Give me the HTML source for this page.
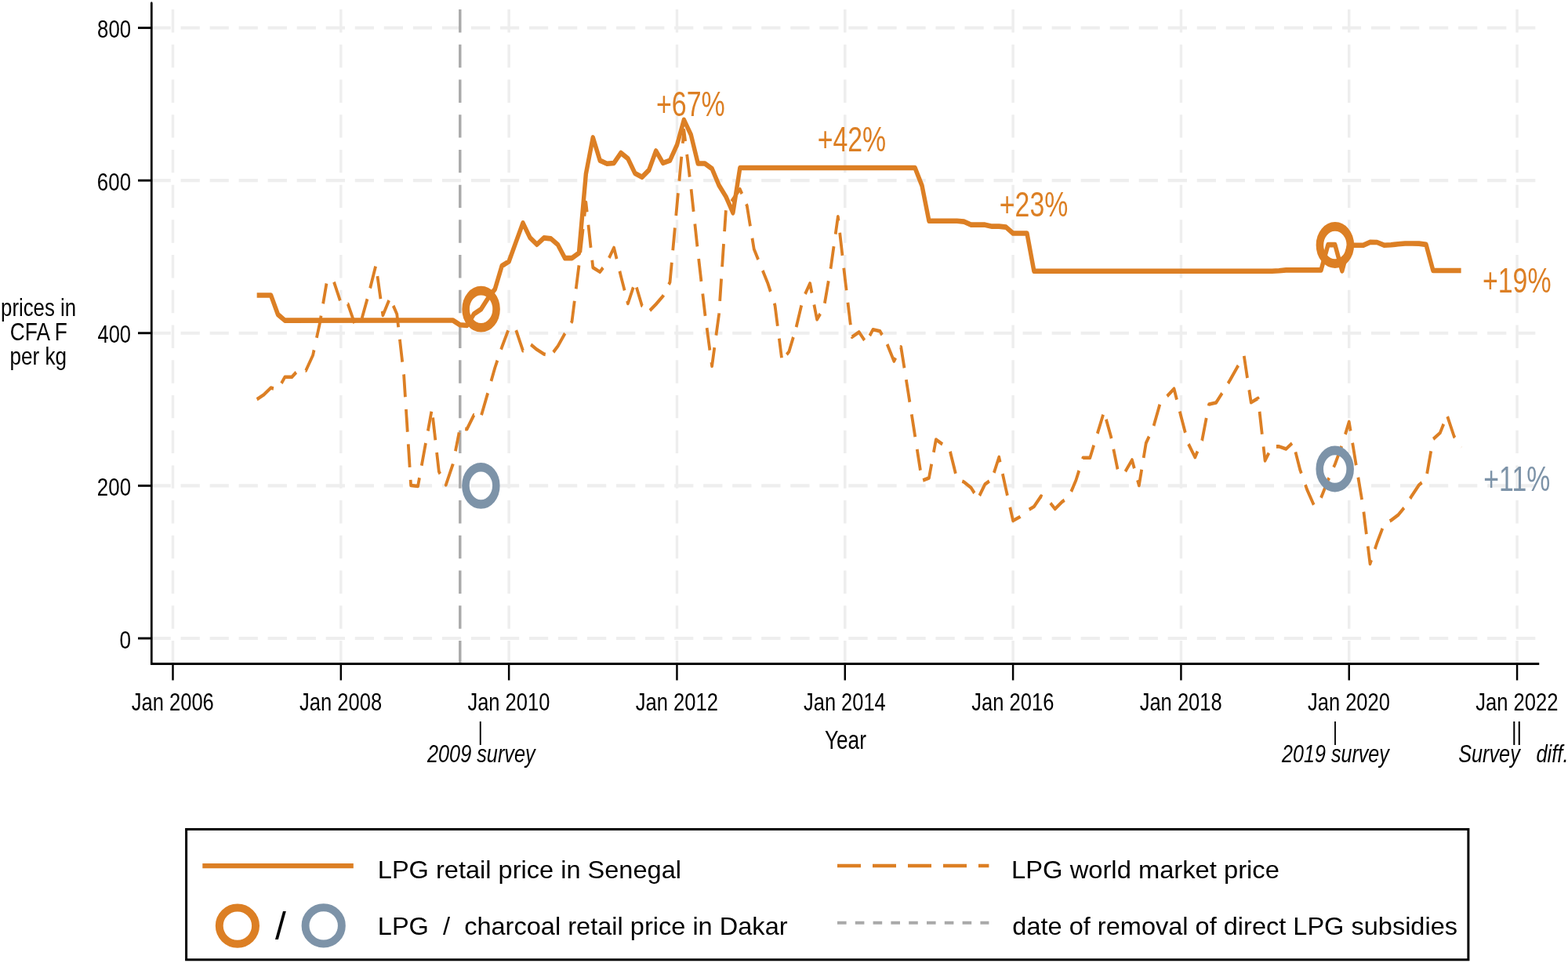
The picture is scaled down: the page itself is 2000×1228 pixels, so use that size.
<!DOCTYPE html><html><head><meta charset="utf-8"><title>LPG prices</title><style>html,body{margin:0;padding:0;background:#fff;}svg{display:block;}</style></head><body><svg width="2000" height="1228" viewBox="0 0 2000 1228" font-family="'Liberation Sans', Arial, sans-serif">
<rect width="2000" height="1228" fill="#fff"/>
<g transform="scale(0.825,1)"><line x1="234.55" y1="814.00" x2="2378.18" y2="814.00" stroke="#eeeeee" stroke-width="4.2" stroke-dasharray="29.4 15.49"/>
<line x1="234.55" y1="619.37" x2="2378.18" y2="619.37" stroke="#eeeeee" stroke-width="4.2" stroke-dasharray="29.4 15.49"/>
<line x1="234.55" y1="424.75" x2="2378.18" y2="424.75" stroke="#eeeeee" stroke-width="4.2" stroke-dasharray="29.4 15.49"/>
<line x1="234.55" y1="230.12" x2="2378.18" y2="230.12" stroke="#eeeeee" stroke-width="4.2" stroke-dasharray="29.4 15.49"/>
<line x1="234.55" y1="35.50" x2="2378.18" y2="35.50" stroke="#eeeeee" stroke-width="4.2" stroke-dasharray="29.4 15.49"/>
<line x1="267.27" y1="846.4" x2="267.27" y2="4.0" stroke="#eeeeee" stroke-width="4.2" stroke-dasharray="29.4 15.32"/>
<line x1="527.05" y1="846.4" x2="527.05" y2="4.0" stroke="#eeeeee" stroke-width="4.2" stroke-dasharray="29.4 15.32"/>
<line x1="786.84" y1="846.4" x2="786.84" y2="4.0" stroke="#eeeeee" stroke-width="4.2" stroke-dasharray="29.4 15.32"/>
<line x1="1046.62" y1="846.4" x2="1046.62" y2="4.0" stroke="#eeeeee" stroke-width="4.2" stroke-dasharray="29.4 15.32"/>
<line x1="1306.40" y1="846.4" x2="1306.40" y2="4.0" stroke="#eeeeee" stroke-width="4.2" stroke-dasharray="29.4 15.32"/>
<line x1="1566.18" y1="846.4" x2="1566.18" y2="4.0" stroke="#eeeeee" stroke-width="4.2" stroke-dasharray="29.4 15.32"/>
<line x1="1825.96" y1="846.4" x2="1825.96" y2="4.0" stroke="#eeeeee" stroke-width="4.2" stroke-dasharray="29.4 15.32"/>
<line x1="2085.75" y1="846.4" x2="2085.75" y2="4.0" stroke="#eeeeee" stroke-width="4.2" stroke-dasharray="29.4 15.32"/>
<line x1="2345.53" y1="846.4" x2="2345.53" y2="4.0" stroke="#eeeeee" stroke-width="4.2" stroke-dasharray="29.4 15.32"/>
<line x1="711.27" y1="846.4" x2="711.27" y2="4.0" stroke="#a9a9a9" stroke-width="4.1" stroke-dasharray="29.4 15.32"/>
<polyline points="397.16,509.20 407.99,503.30 418.81,494.50 429.64,496.80 435.09,488.68" fill="none" stroke="#dc7f24" stroke-width="4.6" stroke-dasharray="30.53 16.59" stroke-linejoin="round"/>
<polyline points="435.09,488.68 440.46,480.70 451.28,480.70 462.11,470.90 472.35,472.41" fill="none" stroke="#dc7f24" stroke-width="4.6" stroke-dasharray="29.41 15.99" stroke-linejoin="round"/>
<polyline points="472.35,472.41 472.93,472.50 483.76,453.00 489.57,430.78" fill="none" stroke="#dc7f24" stroke-width="4.6" stroke-dasharray="29.71 16.15" stroke-linejoin="round"/>
<polyline points="489.57,430.78 494.58,411.60 499.55,387.21" fill="none" stroke="#dc7f24" stroke-width="4.6" stroke-dasharray="28.97 15.75" stroke-linejoin="round"/>
<polyline points="499.55,387.21 505.41,358.50 516.23,359.30 516.35,359.60" fill="none" stroke="#dc7f24" stroke-width="4.6" stroke-dasharray="26.22 14.25" stroke-linejoin="round"/>
<polyline points="516.35,359.60 527.05,386.30 537.52,387.65" fill="none" stroke="#dc7f24" stroke-width="4.6" stroke-dasharray="25.47 13.84" stroke-linejoin="round"/>
<polyline points="537.52,387.65 537.88,387.70 548.70,413.50 559.36,406.12" fill="none" stroke="#dc7f24" stroke-width="4.6" stroke-dasharray="26.76 14.54" stroke-linejoin="round"/>
<polyline points="559.36,406.12 559.53,406.00 570.35,373.70 572.24,367.50" fill="none" stroke="#dc7f24" stroke-width="4.6" stroke-dasharray="26.40 14.35" stroke-linejoin="round"/>
<polyline points="572.24,367.50 581.18,338.20 583.56,352.23" fill="none" stroke="#dc7f24" stroke-width="4.6" stroke-dasharray="29.07 15.80" stroke-linejoin="round"/>
<polyline points="583.56,352.23 591.11,396.76" fill="none" stroke="#dc7f24" stroke-width="4.6" stroke-dasharray="29.26 15.90" stroke-linejoin="round"/>
<polyline points="591.11,396.76 592.00,402.00 602.82,380.00 608.07,389.93" fill="none" stroke="#dc7f24" stroke-width="4.6" stroke-dasharray="26.60 14.46" stroke-linejoin="round"/>
<polyline points="608.07,389.93 613.65,400.50 618.09,432.73" fill="none" stroke="#dc7f24" stroke-width="4.6" stroke-dasharray="28.82 15.67" stroke-linejoin="round"/>
<polyline points="618.09,432.73 624.25,477.37" fill="none" stroke="#dc7f24" stroke-width="4.6" stroke-dasharray="29.19 15.87" stroke-linejoin="round"/>
<polyline points="624.25,477.37 624.47,479.00 627.79,521.91" fill="none" stroke="#dc7f24" stroke-width="4.6" stroke-dasharray="28.95 15.74" stroke-linejoin="round"/>
<polyline points="627.79,521.91 631.23,566.38" fill="none" stroke="#dc7f24" stroke-width="4.6" stroke-dasharray="28.90 15.71" stroke-linejoin="round"/>
<polyline points="631.23,566.38 634.74,611.83" fill="none" stroke="#dc7f24" stroke-width="4.6" stroke-dasharray="29.53 16.05" stroke-linejoin="round"/>
<polyline points="634.74,611.83 635.30,619.00 646.12,620.00 651.86,593.82" fill="none" stroke="#dc7f24" stroke-width="4.6" stroke-dasharray="29.07 15.80" stroke-linejoin="round"/>
<polyline points="651.86,593.82 656.95,570.60 661.64,549.49" fill="none" stroke="#dc7f24" stroke-width="4.6" stroke-dasharray="29.40 15.98" stroke-linejoin="round"/>
<polyline points="661.64,549.49 667.77,521.90 669.21,532.47" fill="none" stroke="#dc7f24" stroke-width="4.6" stroke-dasharray="25.22 13.71" stroke-linejoin="round"/>
<polyline points="669.21,532.47 675.27,576.95" fill="none" stroke="#dc7f24" stroke-width="4.6" stroke-dasharray="29.09 15.81" stroke-linejoin="round"/>
<polyline points="675.27,576.95 678.59,601.30 688.58,616.98" fill="none" stroke="#dc7f24" stroke-width="4.6" stroke-dasharray="27.97 15.20" stroke-linejoin="round"/>
<polyline points="688.58,616.98 689.42,618.30 700.24,591.80 704.16,575.34" fill="none" stroke="#dc7f24" stroke-width="4.6" stroke-dasharray="30.52 16.59" stroke-linejoin="round"/>
<polyline points="704.16,575.34 711.07,546.30 719.05,547.04" fill="none" stroke="#dc7f24" stroke-width="4.6" stroke-dasharray="24.54 13.34" stroke-linejoin="round"/>
<polyline points="719.05,547.04 721.89,547.30 732.72,529.30 743.54,531.40 744.33,529.16" fill="none" stroke="#dc7f24" stroke-width="4.6" stroke-dasharray="24.14 13.12" stroke-linejoin="round"/>
<polyline points="744.33,529.16 754.36,500.70 759.35,486.09" fill="none" stroke="#dc7f24" stroke-width="4.6" stroke-dasharray="29.55 16.06" stroke-linejoin="round"/>
<polyline points="759.35,486.09 765.19,469.00 774.73,445.63" fill="none" stroke="#dc7f24" stroke-width="4.6" stroke-dasharray="28.06 15.25" stroke-linejoin="round"/>
<polyline points="774.73,445.63 776.01,442.50 786.84,418.70 797.66,420.50 797.89,421.06" fill="none" stroke="#dc7f24" stroke-width="4.6" stroke-dasharray="26.63 14.48" stroke-linejoin="round"/>
<polyline points="797.89,421.06 808.48,447.20 819.31,438.40 820.78,439.40" fill="none" stroke="#dc7f24" stroke-width="4.6" stroke-dasharray="28.46 15.47" stroke-linejoin="round"/>
<polyline points="820.78,439.40 830.13,445.80 840.96,451.50 851.78,453.30 855.50,449.15" fill="none" stroke="#dc7f24" stroke-width="4.6" stroke-dasharray="25.99 14.12" stroke-linejoin="round"/>
<polyline points="855.50,449.15 862.61,441.20 873.43,425.20 882.99,411.78" fill="none" stroke="#dc7f24" stroke-width="4.6" stroke-dasharray="30.10 16.36" stroke-linejoin="round"/>
<polyline points="882.99,411.78 884.25,410.00 890.58,368.34" fill="none" stroke="#dc7f24" stroke-width="4.6" stroke-dasharray="28.71 15.60" stroke-linejoin="round"/>
<polyline points="890.58,368.34 895.08,338.70 905.90,258.00 909.64,286.73" fill="none" stroke="#dc7f24" stroke-width="4.6" stroke-dasharray="30.31 16.48" stroke-linejoin="round"/>
<polyline points="909.64,286.73 915.50,331.71" fill="none" stroke="#dc7f24" stroke-width="4.6" stroke-dasharray="29.39 15.97" stroke-linejoin="round"/>
<polyline points="915.50,331.71 916.73,341.10 927.55,346.80 938.38,334.60 941.70,328.86" fill="none" stroke="#dc7f24" stroke-width="4.6" stroke-dasharray="28.93 15.72" stroke-linejoin="round"/>
<polyline points="941.70,328.86 949.20,315.90 958.05,345.73" fill="none" stroke="#dc7f24" stroke-width="4.6" stroke-dasharray="29.86 16.23" stroke-linejoin="round"/>
<polyline points="958.05,345.73 960.02,352.40 970.85,387.00 981.67,359.90 992.50,389.80 1003.32,397.30 1004.75,396.07" fill="none" stroke="#dc7f24" stroke-width="4.6" stroke-dasharray="25.75 14.00" stroke-linejoin="round"/>
<polyline points="1004.75,396.07 1014.15,388.00 1024.97,377.70 1034.01,362.74" fill="none" stroke="#dc7f24" stroke-width="4.6" stroke-dasharray="29.03 15.78" stroke-linejoin="round"/>
<polyline points="1034.01,362.74 1035.79,359.80 1040.29,319.14" fill="none" stroke="#dc7f24" stroke-width="4.6" stroke-dasharray="28.73 15.62" stroke-linejoin="round"/>
<polyline points="1040.29,319.14 1046.62,262.00 1050.15,230.64" fill="none" stroke="#dc7f24" stroke-width="4.6" stroke-dasharray="28.85 15.68" stroke-linejoin="round"/>
<polyline points="1050.15,230.64 1057.44,166.00 1062.04,196.88" fill="none" stroke="#dc7f24" stroke-width="4.6" stroke-dasharray="31.18 16.95" stroke-linejoin="round"/>
<polyline points="1062.04,196.88 1068.27,238.70 1068.60,241.29" fill="none" stroke="#dc7f24" stroke-width="4.6" stroke-dasharray="29.09 15.81" stroke-linejoin="round"/>
<polyline points="1068.60,241.29 1074.34,285.47" fill="none" stroke="#dc7f24" stroke-width="4.6" stroke-dasharray="28.87 15.69" stroke-linejoin="round"/>
<polyline points="1074.34,285.47 1079.09,322.00 1086.39,374.55" fill="none" stroke="#dc7f24" stroke-width="4.6" stroke-dasharray="29.12 15.83" stroke-linejoin="round"/>
<polyline points="1086.39,374.55 1089.92,399.90 1092.86,418.10" fill="none" stroke="#dc7f24" stroke-width="4.6" stroke-dasharray="28.53 15.51" stroke-linejoin="round"/>
<polyline points="1092.86,418.10 1099.96,461.95" fill="none" stroke="#dc7f24" stroke-width="4.6" stroke-dasharray="28.78 15.64" stroke-linejoin="round"/>
<polyline points="1099.96,461.95 1100.74,466.80 1107.18,427.63" fill="none" stroke="#dc7f24" stroke-width="4.6" stroke-dasharray="28.90 15.71" stroke-linejoin="round"/>
<polyline points="1107.18,427.63 1111.56,401.00 1112.95,383.88" fill="none" stroke="#dc7f24" stroke-width="4.6" stroke-dasharray="28.61 15.55" stroke-linejoin="round"/>
<polyline points="1112.95,383.88 1116.49,340.06" fill="none" stroke="#dc7f24" stroke-width="4.6" stroke-dasharray="28.48 15.48" stroke-linejoin="round"/>
<polyline points="1116.49,340.06 1120.11,295.16" fill="none" stroke="#dc7f24" stroke-width="4.6" stroke-dasharray="29.18 15.86" stroke-linejoin="round"/>
<polyline points="1120.11,295.16 1122.39,267.00 1133.21,254.00 1144.04,241.20 1153.79,260.21" fill="none" stroke="#dc7f24" stroke-width="4.6" stroke-dasharray="26.98 14.67" stroke-linejoin="round"/>
<polyline points="1153.79,260.21 1154.86,262.30 1165.68,317.40 1176.51,339.60 1179.15,345.02" fill="none" stroke="#dc7f24" stroke-width="4.6" stroke-dasharray="28.90 15.71" stroke-linejoin="round"/>
<polyline points="1179.15,345.02 1187.33,361.80 1198.16,389.40 1204.67,431.56" fill="none" stroke="#dc7f24" stroke-width="4.6" stroke-dasharray="29.47 16.02" stroke-linejoin="round"/>
<polyline points="1204.67,431.56 1208.98,459.50 1219.81,448.50 1230.63,418.60 1231.08,417.05" fill="none" stroke="#dc7f24" stroke-width="4.6" stroke-dasharray="24.98 13.58" stroke-linejoin="round"/>
<polyline points="1231.08,417.05 1241.45,381.10 1244.84,374.93" fill="none" stroke="#dc7f24" stroke-width="4.6" stroke-dasharray="28.80 15.66" stroke-linejoin="round"/>
<polyline points="1244.84,374.93 1252.28,361.40 1258.65,388.43" fill="none" stroke="#dc7f24" stroke-width="4.6" stroke-dasharray="27.99 15.22" stroke-linejoin="round"/>
<polyline points="1258.65,388.43 1263.10,407.30 1273.93,392.00 1275.02,386.72" fill="none" stroke="#dc7f24" stroke-width="4.6" stroke-dasharray="28.19 15.32" stroke-linejoin="round"/>
<polyline points="1275.02,386.72 1284.16,342.73" fill="none" stroke="#dc7f24" stroke-width="4.6" stroke-dasharray="29.11 15.82" stroke-linejoin="round"/>
<polyline points="1284.16,342.73 1284.75,339.90 1291.76,298.66" fill="none" stroke="#dc7f24" stroke-width="4.6" stroke-dasharray="28.98 15.75" stroke-linejoin="round"/>
<polyline points="1291.76,298.66 1295.58,276.20 1298.39,296.69" fill="none" stroke="#dc7f24" stroke-width="4.6" stroke-dasharray="28.16 15.30" stroke-linejoin="round"/>
<polyline points="1298.39,296.69 1304.58,341.79" fill="none" stroke="#dc7f24" stroke-width="4.6" stroke-dasharray="29.49 16.03" stroke-linejoin="round"/>
<polyline points="1304.58,341.79 1306.40,355.00 1310.85,385.76" fill="none" stroke="#dc7f24" stroke-width="4.6" stroke-dasharray="28.77 15.64" stroke-linejoin="round"/>
<polyline points="1310.85,385.76 1317.22,429.76" fill="none" stroke="#dc7f24" stroke-width="4.6" stroke-dasharray="28.81 15.66" stroke-linejoin="round"/>
<polyline points="1317.22,429.76 1317.22,429.80 1328.05,423.40 1338.87,436.70 1349.70,420.20 1360.52,422.30 1371.35,438.20 1371.67,438.88" fill="none" stroke="#dc7f24" stroke-width="4.6" stroke-dasharray="26.08 14.17" stroke-linejoin="round"/>
<polyline points="1371.67,438.88 1382.17,460.50 1392.76,442.89" fill="none" stroke="#dc7f24" stroke-width="4.6" stroke-dasharray="28.89 15.70" stroke-linejoin="round"/>
<polyline points="1392.76,442.89 1392.99,442.50 1401.02,484.12" fill="none" stroke="#dc7f24" stroke-width="4.6" stroke-dasharray="27.75 15.08" stroke-linejoin="round"/>
<polyline points="1401.02,484.12 1403.82,498.60 1409.46,528.34" fill="none" stroke="#dc7f24" stroke-width="4.6" stroke-dasharray="29.16 15.85" stroke-linejoin="round"/>
<polyline points="1409.46,528.34 1414.64,555.70 1417.88,572.83" fill="none" stroke="#dc7f24" stroke-width="4.6" stroke-dasharray="29.34 15.95" stroke-linejoin="round"/>
<polyline points="1417.88,572.83 1425.47,612.90 1426.87,612.46" fill="none" stroke="#dc7f24" stroke-width="4.6" stroke-dasharray="27.37 14.88" stroke-linejoin="round"/>
<polyline points="1426.87,612.46 1436.29,609.50 1443.54,576.76" fill="none" stroke="#dc7f24" stroke-width="4.6" stroke-dasharray="28.12 15.28" stroke-linejoin="round"/>
<polyline points="1443.54,576.76 1447.12,560.60 1457.94,566.90 1468.76,575.00 1468.99,575.76" fill="none" stroke="#dc7f24" stroke-width="4.6" stroke-dasharray="28.11 15.28" stroke-linejoin="round"/>
<polyline points="1468.99,575.76 1479.59,610.90 1487.63,613.65" fill="none" stroke="#dc7f24" stroke-width="4.6" stroke-dasharray="29.29 15.92" stroke-linejoin="round"/>
<polyline points="1487.63,613.65 1490.41,614.60 1501.24,621.90 1512.06,635.80 1522.88,617.50 1533.71,610.90 1536.80,602.92" fill="none" stroke="#dc7f24" stroke-width="4.6" stroke-dasharray="24.65 13.40" stroke-linejoin="round"/>
<polyline points="1536.80,602.92 1544.53,583.00 1550.10,604.09" fill="none" stroke="#dc7f24" stroke-width="4.6" stroke-dasharray="27.98 15.21" stroke-linejoin="round"/>
<polyline points="1550.10,604.09 1555.36,624.00 1561.56,646.91" fill="none" stroke="#dc7f24" stroke-width="4.6" stroke-dasharray="28.72 15.61" stroke-linejoin="round"/>
<polyline points="1561.56,646.91 1566.18,664.00 1577.01,659.00 1587.83,651.40 1591.13,649.75" fill="none" stroke="#dc7f24" stroke-width="4.6" stroke-dasharray="30.16 16.39" stroke-linejoin="round"/>
<polyline points="1591.13,649.75 1598.65,646.00 1609.48,632.70 1620.30,637.60 1624.01,641.51" fill="none" stroke="#dc7f24" stroke-width="4.6" stroke-dasharray="27.74 15.08" stroke-linejoin="round"/>
<polyline points="1624.01,641.51 1631.13,649.00 1641.95,640.00 1652.78,633.50 1656.13,626.92" fill="none" stroke="#dc7f24" stroke-width="4.6" stroke-dasharray="28.78 15.64" stroke-linejoin="round"/>
<polyline points="1656.13,626.92 1663.60,612.30 1673.88,585.22" fill="none" stroke="#dc7f24" stroke-width="4.6" stroke-dasharray="29.40 15.98" stroke-linejoin="round"/>
<polyline points="1673.88,585.22 1674.42,583.80 1685.25,583.80 1696.07,554.50 1696.69,552.84" fill="none" stroke="#dc7f24" stroke-width="4.6" stroke-dasharray="29.38 15.97" stroke-linejoin="round"/>
<polyline points="1696.69,552.84 1706.90,525.20 1717.72,557.00 1721.59,572.71" fill="none" stroke="#dc7f24" stroke-width="4.6" stroke-dasharray="25.66 13.95" stroke-linejoin="round"/>
<polyline points="1721.59,572.71 1728.55,601.00 1739.37,601.90 1739.85,601.22" fill="none" stroke="#dc7f24" stroke-width="4.6" stroke-dasharray="26.45 14.38" stroke-linejoin="round"/>
<polyline points="1739.85,601.22 1750.19,586.50 1758.79,612.31" fill="none" stroke="#dc7f24" stroke-width="4.6" stroke-dasharray="29.28 15.92" stroke-linejoin="round"/>
<polyline points="1758.79,612.31 1761.02,619.00 1768.06,583.89" fill="none" stroke="#dc7f24" stroke-width="4.6" stroke-dasharray="27.77 15.09" stroke-linejoin="round"/>
<polyline points="1768.06,583.89 1771.84,565.00 1782.67,546.00 1783.74,542.89" fill="none" stroke="#dc7f24" stroke-width="4.6" stroke-dasharray="28.78 15.64" stroke-linejoin="round"/>
<polyline points="1783.74,542.89 1793.49,514.70 1804.32,505.30 1804.41,505.22" fill="none" stroke="#dc7f24" stroke-width="4.6" stroke-dasharray="28.70 15.60" stroke-linejoin="round"/>
<polyline points="1804.41,505.22 1815.14,495.80 1824.01,524.64" fill="none" stroke="#dc7f24" stroke-width="4.6" stroke-dasharray="28.79 15.65" stroke-linejoin="round"/>
<polyline points="1824.01,524.64 1825.96,531.00 1836.79,565.10 1837.49,566.27" fill="none" stroke="#dc7f24" stroke-width="4.6" stroke-dasharray="28.37 15.42" stroke-linejoin="round"/>
<polyline points="1837.49,566.27 1847.61,583.10 1858.41,561.75" fill="none" stroke="#dc7f24" stroke-width="4.6" stroke-dasharray="28.22 15.34" stroke-linejoin="round"/>
<polyline points="1858.41,561.75 1858.44,561.70 1868.78,517.47" fill="none" stroke="#dc7f24" stroke-width="4.6" stroke-dasharray="29.47 16.02" stroke-linejoin="round"/>
<polyline points="1868.78,517.47 1869.26,515.40 1880.08,513.50 1890.91,499.40 1898.66,488.80" fill="none" stroke="#dc7f24" stroke-width="4.6" stroke-dasharray="28.51 15.50" stroke-linejoin="round"/>
<polyline points="1898.66,488.80 1901.73,484.60 1912.56,468.70 1923.38,453.90" fill="none" stroke="#dc7f24" stroke-width="4.6" stroke-dasharray="27.72 15.06" stroke-linejoin="round"/>
<polyline points="1923.38,453.90 1931.29,497.23" fill="none" stroke="#dc7f24" stroke-width="4.6" stroke-dasharray="28.54 15.51" stroke-linejoin="round"/>
<polyline points="1931.29,497.23 1934.21,513.20 1945.03,507.90 1947.35,524.92" fill="none" stroke="#dc7f24" stroke-width="4.6" stroke-dasharray="29.46 16.01" stroke-linejoin="round"/>
<polyline points="1947.35,524.92 1953.41,569.47" fill="none" stroke="#dc7f24" stroke-width="4.6" stroke-dasharray="29.13 15.83" stroke-linejoin="round"/>
<polyline points="1953.41,569.47 1955.85,587.40 1966.68,569.40 1973.21,569.40" fill="none" stroke="#dc7f24" stroke-width="4.6" stroke-dasharray="29.56 16.07" stroke-linejoin="round"/>
<polyline points="1973.21,569.40 1977.50,569.40 1988.33,572.50 1999.15,564.00 2002.97,576.33" fill="none" stroke="#dc7f24" stroke-width="4.6" stroke-dasharray="27.35 14.87" stroke-linejoin="round"/>
<polyline points="2002.97,576.33 2009.98,599.00 2018.13,618.12" fill="none" stroke="#dc7f24" stroke-width="4.6" stroke-dasharray="28.84 15.68" stroke-linejoin="round"/>
<polyline points="2018.13,618.12 2020.80,624.40 2031.62,644.60 2042.45,634.70" fill="none" stroke="#dc7f24" stroke-width="4.6" stroke-dasharray="28.77 15.64" stroke-linejoin="round"/>
<polyline points="2042.45,634.70 2053.27,612.30 2061.96,595.77" fill="none" stroke="#dc7f24" stroke-width="4.6" stroke-dasharray="28.22 15.34" stroke-linejoin="round"/>
<polyline points="2061.96,595.77 2064.10,591.70 2074.92,567.50 2079.90,553.88" fill="none" stroke="#dc7f24" stroke-width="4.6" stroke-dasharray="29.55 16.06" stroke-linejoin="round"/>
<polyline points="2079.90,553.88 2085.75,537.90 2091.07,564.79" fill="none" stroke="#dc7f24" stroke-width="4.6" stroke-dasharray="28.78 15.64" stroke-linejoin="round"/>
<polyline points="2091.07,564.79 2096.57,592.60 2099.83,608.69" fill="none" stroke="#dc7f24" stroke-width="4.6" stroke-dasharray="29.00 15.76" stroke-linejoin="round"/>
<polyline points="2099.83,608.69 2107.39,646.00 2108.37,652.62" fill="none" stroke="#dc7f24" stroke-width="4.6" stroke-dasharray="29.00 15.76" stroke-linejoin="round"/>
<polyline points="2108.37,652.62 2114.88,696.50" fill="none" stroke="#dc7f24" stroke-width="4.6" stroke-dasharray="28.74 15.62" stroke-linejoin="round"/>
<polyline points="2114.88,696.50 2118.22,719.00 2125.80,700.09" fill="none" stroke="#dc7f24" stroke-width="4.6" stroke-dasharray="27.93 15.18" stroke-linejoin="round"/>
<polyline points="2125.80,700.09 2129.04,692.00 2139.87,668.50 2148.67,664.43" fill="none" stroke="#dc7f24" stroke-width="4.6" stroke-dasharray="28.69 15.60" stroke-linejoin="round"/>
<polyline points="2148.67,664.43 2150.69,663.50 2161.52,656.80 2172.34,646.10 2180.12,635.75" fill="none" stroke="#dc7f24" stroke-width="4.6" stroke-dasharray="27.94 15.19" stroke-linejoin="round"/>
<polyline points="2180.12,635.75 2183.16,631.70 2193.99,618.30 2204.81,611.00 2206.29,604.05" fill="none" stroke="#dc7f24" stroke-width="4.6" stroke-dasharray="27.50 14.95" stroke-linejoin="round"/>
<polyline points="2206.29,604.05 2215.64,560.00 2215.91,559.80" fill="none" stroke="#dc7f24" stroke-width="4.6" stroke-dasharray="29.39 15.98" stroke-linejoin="round"/>
<polyline points="2215.91,559.80 2226.46,552.00 2237.28,529.60 2237.87,531.06" fill="none" stroke="#dc7f24" stroke-width="4.6" stroke-dasharray="25.64 13.94" stroke-linejoin="round"/>
<polyline points="2237.87,531.06 2248.11,556.50 2258.92,570.78" fill="none" stroke="#dc7f24" stroke-width="4.6" stroke-dasharray="29.36 15.96" stroke-linejoin="round"/>
<polyline points="2258.92,570.78 2258.93,570.80" fill="none" stroke="#dc7f24" stroke-width="4.6" stroke-dasharray="28.70 15.60" stroke-linejoin="round"/>
<polyline points="397.16,376.45 407.99,376.45 418.81,376.45 429.64,400.95 440.46,408.60 700.24,408.50 711.07,414.25 721.89,414.95 732.72,400.35 743.54,394.45 754.36,380.55 765.19,368.85 776.01,338.95 786.84,333.35 797.66,308.75 808.48,284.35 819.31,302.95 830.13,311.75 840.96,303.35 851.78,304.35 862.61,312.15 873.43,329.15 884.25,329.15 895.08,322.65 905.90,221.75 916.73,175.35 927.55,204.65 938.38,208.75 949.20,207.95 960.02,194.95 970.85,202.25 981.67,220.95 992.50,225.85 1003.32,216.85 1014.15,192.45 1024.97,207.95 1035.79,204.55 1046.62,184.95 1057.44,152.85 1068.27,171.85 1079.09,208.55 1089.92,208.55 1100.74,215.05 1111.56,236.25 1122.39,250.85 1133.21,271.25 1144.04,214.00 1414.64,214.00 1425.47,236.75 1436.29,281.70 1468.76,281.70 1479.59,281.75 1490.41,282.65 1501.24,286.65 1522.88,286.65 1533.71,288.65 1544.53,288.65 1555.36,289.65 1566.18,297.45 1587.83,297.45 1598.65,345.70 1966.68,345.70 1977.50,345.30 1988.33,344.40 2042.45,344.40 2053.27,312.15 2064.10,312.15 2074.92,345.35 2085.75,312.60 2096.57,312.70 2107.39,312.80 2118.22,308.80 2129.04,309.00 2139.87,312.70 2150.69,312.20 2161.52,311.30 2172.34,310.50 2183.16,310.50 2193.99,310.60 2204.81,311.90 2215.64,345.00 2258.93,345.00" fill="none" stroke="#dc7f24" stroke-width="6.6" stroke-linejoin="round"/>
<circle cx="743.76" cy="394.20" r="23.6" fill="none" stroke="#dc7f24" stroke-width="11.6"/>
<circle cx="743.52" cy="619.35" r="23.6" fill="none" stroke="#7d93a8" stroke-width="11.6"/>
<circle cx="2064.12" cy="312.50" r="23.6" fill="none" stroke="#dc7f24" stroke-width="11.6"/>
<circle cx="2063.88" cy="598.00" r="23.6" fill="none" stroke="#7d93a8" stroke-width="11.6"/>
<line x1="234.30" y1="4.0" x2="234.30" y2="846.4" stroke="#000" stroke-width="3.3" stroke-linecap="round"/>
<line x1="234.30" y1="846.4" x2="2378.18" y2="846.4" stroke="#000" stroke-width="3.0" stroke-linecap="square"/>
<line x1="213.33" y1="814.00" x2="234.30" y2="814.00" stroke="#000" stroke-width="2.9"/>
<line x1="213.33" y1="619.37" x2="234.30" y2="619.37" stroke="#000" stroke-width="2.9"/>
<line x1="213.33" y1="424.75" x2="234.30" y2="424.75" stroke="#000" stroke-width="2.9"/>
<line x1="213.33" y1="230.12" x2="234.30" y2="230.12" stroke="#000" stroke-width="2.9"/>
<line x1="213.33" y1="35.50" x2="234.30" y2="35.50" stroke="#000" stroke-width="2.9"/>
<line x1="267.27" y1="846.4" x2="267.27" y2="867.5" stroke="#000" stroke-width="3.0"/>
<line x1="527.05" y1="846.4" x2="527.05" y2="867.5" stroke="#000" stroke-width="3.0"/>
<line x1="786.84" y1="846.4" x2="786.84" y2="867.5" stroke="#000" stroke-width="3.0"/>
<line x1="1046.62" y1="846.4" x2="1046.62" y2="867.5" stroke="#000" stroke-width="3.0"/>
<line x1="1306.40" y1="846.4" x2="1306.40" y2="867.5" stroke="#000" stroke-width="3.0"/>
<line x1="1566.18" y1="846.4" x2="1566.18" y2="867.5" stroke="#000" stroke-width="3.0"/>
<line x1="1825.96" y1="846.4" x2="1825.96" y2="867.5" stroke="#000" stroke-width="3.0"/>
<line x1="2085.75" y1="846.4" x2="2085.75" y2="867.5" stroke="#000" stroke-width="3.0"/>
<line x1="2345.53" y1="846.4" x2="2345.53" y2="867.5" stroke="#000" stroke-width="3.0"/></g>
<text x="152.47" y="826.50" font-size="31.6" fill="#000" textLength="14.54" lengthAdjust="spacingAndGlyphs" xml:space="preserve">0</text>
<text x="123.87" y="631.87" font-size="31.6" fill="#000" textLength="43.16" lengthAdjust="spacingAndGlyphs" xml:space="preserve">200</text>
<text x="124.60" y="437.25" font-size="31.6" fill="#000" textLength="42.42" lengthAdjust="spacingAndGlyphs" xml:space="preserve">400</text>
<text x="123.87" y="242.62" font-size="31.6" fill="#000" textLength="43.16" lengthAdjust="spacingAndGlyphs" xml:space="preserve">600</text>
<text x="124.08" y="48.00" font-size="31.6" fill="#000" textLength="42.95" lengthAdjust="spacingAndGlyphs" xml:space="preserve">800</text>
<text x="167.75" y="906.00" font-size="32.2" fill="#000" textLength="105.04" lengthAdjust="spacingAndGlyphs" xml:space="preserve">Jan 2006</text>
<text x="382.07" y="906.00" font-size="32.2" fill="#000" textLength="105.04" lengthAdjust="spacingAndGlyphs" xml:space="preserve">Jan 2008</text>
<text x="596.39" y="906.00" font-size="32.2" fill="#000" textLength="104.94" lengthAdjust="spacingAndGlyphs" xml:space="preserve">Jan 2010</text>
<text x="810.71" y="906.00" font-size="32.2" fill="#000" textLength="105.14" lengthAdjust="spacingAndGlyphs" xml:space="preserve">Jan 2012</text>
<text x="1025.04" y="906.00" font-size="32.2" fill="#000" textLength="104.64" lengthAdjust="spacingAndGlyphs" xml:space="preserve">Jan 2014</text>
<text x="1239.35" y="906.00" font-size="32.2" fill="#000" textLength="105.04" lengthAdjust="spacingAndGlyphs" xml:space="preserve">Jan 2016</text>
<text x="1453.67" y="906.00" font-size="32.2" fill="#000" textLength="105.04" lengthAdjust="spacingAndGlyphs" xml:space="preserve">Jan 2018</text>
<text x="1667.99" y="906.00" font-size="32.2" fill="#000" textLength="104.94" lengthAdjust="spacingAndGlyphs" xml:space="preserve">Jan 2020</text>
<text x="1882.31" y="906.00" font-size="32.2" fill="#000" textLength="105.14" lengthAdjust="spacingAndGlyphs" xml:space="preserve">Jan 2022</text>
<text x="1.06" y="402.80" font-size="31.4" fill="#000" textLength="95.95" lengthAdjust="spacingAndGlyphs" xml:space="preserve">prices in</text>
<text x="12.74" y="434.10" font-size="31.4" fill="#000" textLength="73.15" lengthAdjust="spacingAndGlyphs" xml:space="preserve">CFA F</text>
<text x="12.44" y="464.80" font-size="31.4" fill="#000" textLength="72.49" lengthAdjust="spacingAndGlyphs" xml:space="preserve">per kg</text>
<text x="1051.89" y="955.00" font-size="32.5" fill="#000" textLength="53.04" lengthAdjust="spacingAndGlyphs" xml:space="preserve">Year</text>
<text x="609.81" y="943.30" font-size="30.5" fill="#000" textLength="6.02" lengthAdjust="spacingAndGlyphs" xml:space="preserve">|</text>
<text x="545.00" y="971.90" font-size="30.5" fill="#000" font-style="italic" textLength="137.68" lengthAdjust="spacingAndGlyphs" xml:space="preserve">2009 survey</text>
<text x="1700.01" y="943.30" font-size="30.5" fill="#000" textLength="6.02" lengthAdjust="spacingAndGlyphs" xml:space="preserve">|</text>
<text x="1635.10" y="971.90" font-size="30.5" fill="#000" font-style="italic" textLength="136.69" lengthAdjust="spacingAndGlyphs" xml:space="preserve">2019 survey</text>
<text x="1928.02" y="943.30" font-size="30.5" fill="#000" textLength="13.14" lengthAdjust="spacingAndGlyphs" xml:space="preserve">||</text>
<text x="1860.18" y="971.90" font-size="30.5" fill="#000" font-style="italic" textLength="78.62" lengthAdjust="spacingAndGlyphs" xml:space="preserve">Survey</text>
<text x="1959.47" y="971.90" font-size="30.5" fill="#000" font-style="italic" textLength="40.99" lengthAdjust="spacingAndGlyphs" xml:space="preserve">diff.</text>
<text x="836.94" y="148.30" font-size="43.5" fill="#dc7f24" textLength="87.91" lengthAdjust="spacingAndGlyphs" xml:space="preserve">+67%</text>
<text x="1042.65" y="193.20" font-size="43.5" fill="#dc7f24" textLength="87.49" lengthAdjust="spacingAndGlyphs" xml:space="preserve">+42%</text>
<text x="1274.85" y="276.00" font-size="43.5" fill="#dc7f24" textLength="87.39" lengthAdjust="spacingAndGlyphs" xml:space="preserve">+23%</text>
<text x="1890.94" y="373.10" font-size="43.5" fill="#dc7f24" textLength="87.60" lengthAdjust="spacingAndGlyphs" xml:space="preserve">+19%</text>
<text x="1892.35" y="625.70" font-size="43.5" fill="#7d93a8" textLength="84.91" lengthAdjust="spacingAndGlyphs" xml:space="preserve">+11%</text>
<rect x="237.6" y="1057.5" width="1635.3" height="166.3" fill="none" stroke="#000" stroke-width="3"/>
<line x1="258.3" y1="1104.1" x2="450.8" y2="1104.1" stroke="#dc7f24" stroke-width="6.2"/>
<circle cx="302.9" cy="1180.6" r="23.15" fill="none" stroke="#dc7f24" stroke-width="9.9"/>
<circle cx="412.7" cy="1180.4" r="23.15" fill="none" stroke="#7d93a8" stroke-width="9.9"/>
<line x1="1068" y1="1104.0" x2="1261.4" y2="1104.0" stroke="#dc7f24" stroke-width="4.6" stroke-dasharray="30 15"/>
<line x1="1068" y1="1176.7" x2="1261.4" y2="1176.7" stroke="#a9a9a9" stroke-width="4.1" stroke-dasharray="11.6 11.2"/>
<text x="350.90" y="1197.50" font-size="50" fill="#000" textLength="13.82" lengthAdjust="spacingAndGlyphs" xml:space="preserve">/</text>
<text x="481.81" y="1119.75" font-size="31.8" fill="#000" textLength="387.18" lengthAdjust="spacingAndGlyphs" xml:space="preserve">LPG retail price in Senegal</text>
<text x="481.81" y="1191.50" font-size="31.8" fill="#000" textLength="522.80" lengthAdjust="spacingAndGlyphs" xml:space="preserve">LPG  /  charcoal retail price in Dakar</text>
<text x="1290.10" y="1119.50" font-size="31.8" fill="#000" textLength="341.81" lengthAdjust="spacingAndGlyphs" xml:space="preserve">LPG world market price</text>
<text x="1291.39" y="1191.80" font-size="31.8" fill="#000" textLength="567.67" lengthAdjust="spacingAndGlyphs" xml:space="preserve">date of removal of direct LPG subsidies</text>
</svg></body></html>
